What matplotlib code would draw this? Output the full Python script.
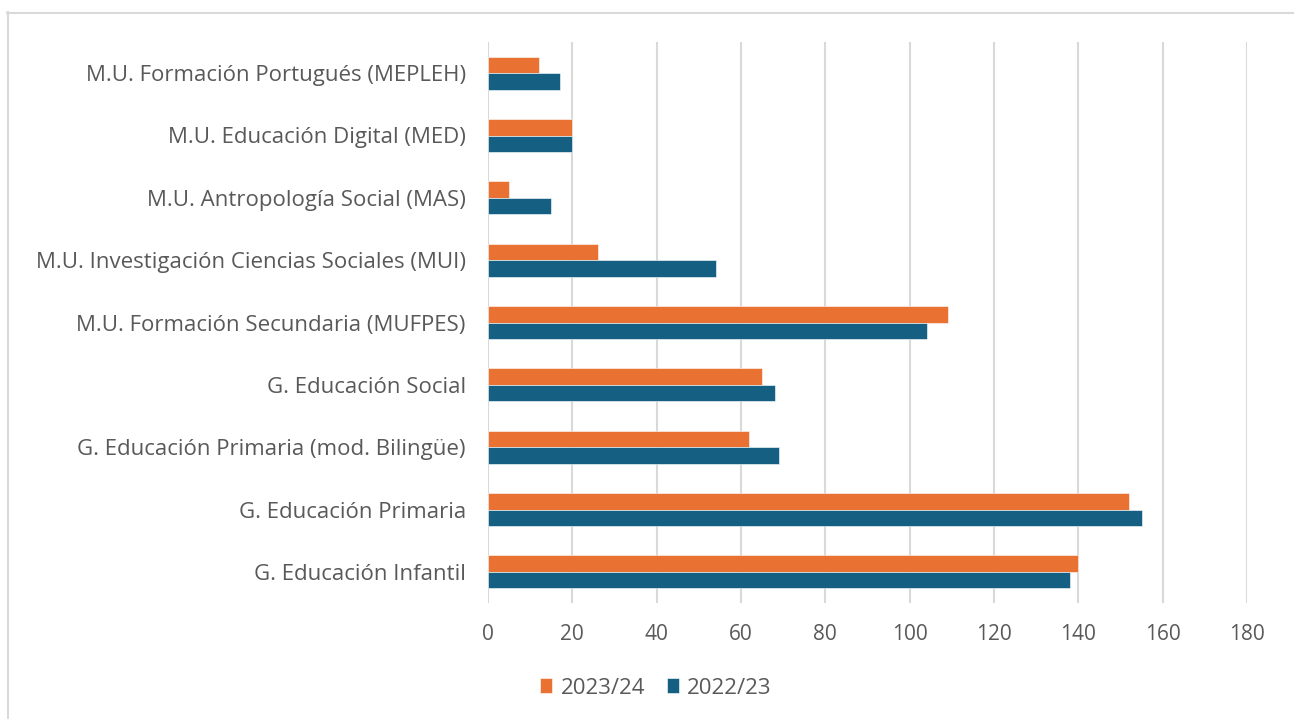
import matplotlib
matplotlib.use("Agg")
import matplotlib.pyplot as plt
from matplotlib.lines import Line2D
import numpy as np

# categories listed bottom -> top
categories = [
    "G. Educación Infantil",
    "G. Educación Primaria",
    "G. Educación Primaria (mod. Bilingüe)",
    "G. Educación Social",
    "M.U. Formación Secundaria (MUFPES)",
    "M.U. Investigación Ciencias Sociales (MUI)",
    "M.U. Antropología Social (MAS)",
    "M.U. Educación Digital (MED)",
    "M.U. Formación Portugués (MEPLEH)",
]
vals_2324 = [140, 152, 62, 65, 109, 26, 5, 20, 12]
vals_2223 = [138, 155, 69, 68, 104, 54, 15, 20, 17]
xticks = [0, 20, 40, 60, 80, 100, 120, 140, 160, 180]

ORANGE = "#E97132"
BLUE = "#156082"
TXT = "#595959"
GRID = "#D9D9D9"

plt.rcParams["font.family"] = ["Open Sans", "DejaVu Sans"]

W, H = 1294, 719
fig = plt.figure(figsize=(W / 100, H / 100), dpi=100)
ax = fig.add_axes([488 / W, 1 - 603 / H, (1247 - 488) / W, (603 - 42) / H])

y = np.arange(len(categories))
h = 0.265
ax.barh(y + h / 2, vals_2324, height=h, color=ORANGE, edgecolor="white",
        linewidth=0.4, label="2023/24", zorder=3)
ax.barh(y - h / 2, vals_2223, height=h, color=BLUE, edgecolor="white",
        linewidth=0.4, label="2022/23", zorder=3)

ax.set_ylim(-0.5, len(categories) - 0.5)
ax.set_xlim(0, 180)
ax.set_xticks(xticks)
ax.set_yticks(y)
ax.set_yticklabels(categories)
ax.tick_params(axis="y", length=0, pad=16, labelsize=16, labelcolor=TXT)
ax.tick_params(axis="x", length=0, pad=15, labelsize=15, labelcolor=TXT)
ax.grid(axis="x", color=GRID, linewidth=1.5, zorder=0)
for s in ax.spines.values():
    s.set_visible(False)

leg = fig.legend(loc="center", bbox_to_anchor=(656 / W, 1 - 688 / H), ncol=2,
                 frameon=False, fontsize=16, handlelength=0.54, handleheight=0.63,
                 handletextpad=0.36, columnspacing=1.0, labelcolor=TXT)

# chart area border (cropped: only top and left visible)
fig.add_artist(Line2D([7 / W, 1], [1 - 12.5 / H, 1 - 12.5 / H], color=GRID, linewidth=1.5))
fig.add_artist(Line2D([7.5 / W, 7.5 / W], [0, 1 - 12 / H], color=GRID, linewidth=1.5))

fig.savefig("out.png", dpi=100)
